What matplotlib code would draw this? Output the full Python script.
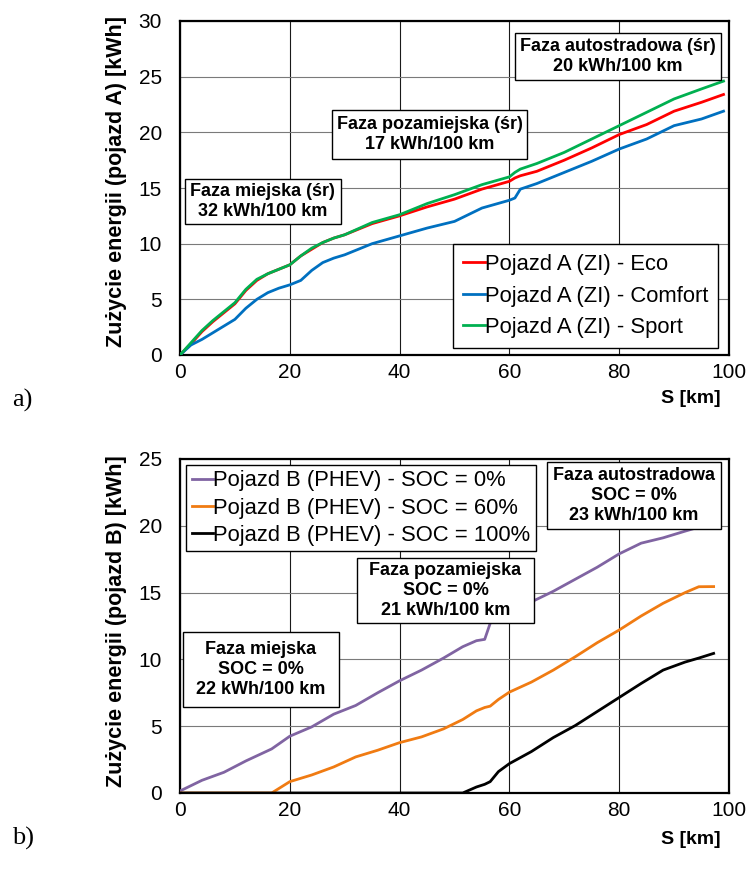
import matplotlib
matplotlib.use("Agg")
import matplotlib.pyplot as plt
from matplotlib.patches import Rectangle

plt.rcParams["font.family"] = ["Liberation Sans", "DejaVu Sans"]

# ---- Pojazd A (ZI): cumulative energy vs distance ----
dist_a = [0, 2, 4, 6, 8, 10, 12, 14, 16, 18, 20, 22, 24, 26, 28, 30, 35, 40,
          45, 50, 55, 60, 61, 62, 65, 70, 75, 80, 85, 90, 95, 99]
energy_eco = [0, 1.0, 2.1, 3.0, 3.8, 4.6, 5.8, 6.7, 7.3, 7.7, 8.1, 8.9, 9.5,
              10.1, 10.5, 10.8, 11.8, 12.5, 13.3, 14.0, 14.9, 15.6, 15.9,
              16.1, 16.5, 17.5, 18.6, 19.8, 20.7, 21.9, 22.7, 23.4]
energy_comfort = [0, 0.9, 1.4, 2.0, 2.6, 3.2, 4.2, 5.0, 5.6, 6.0, 6.3, 6.7,
                  7.6, 8.3, 8.7, 9.0, 10.0, 10.7, 11.4, 12.0, 13.2, 13.9,
                  14.1, 14.9, 15.4, 16.4, 17.4, 18.5, 19.4, 20.6, 21.2, 21.9]
energy_sport = [0, 1.1, 2.2, 3.1, 3.9, 4.7, 5.9, 6.8, 7.3, 7.7, 8.1, 8.9, 9.6,
                10.1, 10.5, 10.8, 11.9, 12.6, 13.6, 14.4, 15.3, 16.0, 16.4,
                16.7, 17.2, 18.2, 19.4, 20.6, 21.8, 23.0, 23.9, 24.6]
labels_a = ["Pojazd A (ZI) - Eco", "Pojazd A (ZI) - Comfort",
            "Pojazd A (ZI) - Sport"]

# ---- Pojazd B (PHEV): cumulative energy vs distance ----
dist_b = [0, 4, 8, 12, 16.7, 20, 24, 28, 32, 36, 40, 44, 48, 51.5, 54, 55.5,
          56.5, 58, 60, 64, 68, 72, 76, 80, 84, 88, 92, 94.5, 97.2]
energy_soc0 = [0.15, 0.95, 1.55, 2.4, 3.3, 4.25, 4.95, 5.9, 6.55, 7.5, 8.4,
               9.2, 10.1, 10.95, 11.4, 11.5, 12.7, 13.3, 13.7, 14.3, 15.1,
               16.0, 16.9, 17.9, 18.7, 19.1, 19.6, 19.9, 20.1]
energy_soc60 = [0, 0, 0, 0, 0, 0.85, 1.35, 1.95, 2.7, 3.2, 3.77, 4.2, 4.8,
                5.5, 6.15, 6.4, 6.5, 7.0, 7.55, 8.3, 9.2, 10.2, 11.25, 12.2,
                13.25, 14.2, 15.0, 15.44, 15.45]
energy_soc100 = [0, 0, 0, 0, 0, 0, 0, 0, 0, 0, 0, 0, 0, 0, 0.45, 0.65, 0.85,
                 1.6, 2.2, 3.1, 4.15, 5.05, 6.1, 7.15, 8.2, 9.2, 9.8, 10.1,
                 10.45]
labels_b = ["Pojazd B (PHEV) - SOC = 0%", "Pojazd B (PHEV) - SOC = 60%",
            "Pojazd B (PHEV) - SOC = 100%"]

# phase annotation texts
notes_a = ["Faza miejska (śr)\n32 kWh/100 km",
           "Faza pozamiejska (śr)\n17 kWh/100 km",
           "Faza autostradowa (śr)\n20 kWh/100 km"]
notes_b = ["Faza miejska\nSOC = 0%\n22 kWh/100 km",
           "Faza pozamiejska\nSOC = 0%\n21 kWh/100 km",
           "Faza autostradowa\nSOC = 0%\n23 kWh/100 km"]

# text-box placement (x0, x1, y0, y1) in data units
boxes_a = [(0.9, 29.3, 11.77, 15.81),
           (27.7, 63.2, 17.61, 22.01),
           (61.0, 98.5, 24.71, 28.93)]
boxes_b = [(0.55, 28.96, 6.44, 12.05),
           (32.24, 64.48, 12.72, 17.59),
           (66.85, 98.54, 19.76, 24.78)]

W, H = 749, 877
fig = plt.figure(figsize=(W / 100, H / 100), dpi=100)


def frame(px_left, px_top, px_right, px_bottom):
    return [px_left / W, 1 - px_bottom / H, (px_right - px_left) / W,
            (px_bottom - px_top) / H]


ax_a = fig.add_axes(frame(180, 21, 729, 355))
ax_b = fig.add_axes(frame(180, 459, 729, 793))

TICK_FS = 15
NOTE_FS = 13
LEG_FS = 15.8


def style_axes(ax, ymax, ylabel, label_y, s_y):
    ax.set_xlim(0, 100)
    ax.set_ylim(0, ymax)
    ax.set_xticks(range(0, 101, 20))
    ax.set_yticks(range(0, ymax + 1, 5))
    ax.tick_params(length=0, labelsize=TICK_FS)
    ax.tick_params(axis="y", pad=13)
    ax.tick_params(axis="x", pad=6)
    ax.xaxis.grid(True, color="#1a1a1a", linewidth=0.8, zorder=0)
    ax.yaxis.grid(True, color="#7a7a7a", linewidth=0.8, zorder=0)
    ax.set_axisbelow(True)
    for sp in ax.spines.values():
        sp.set_linewidth(1.6)
        sp.set_color("black")
    ax.set_ylabel(ylabel, fontsize=15.5, fontweight="bold")
    ax.yaxis.set_label_coords(-0.097, label_y)
    ax.text(0.985, s_y, "S [km]", transform=ax.transAxes, ha="right",
            va="center", fontsize=14, fontweight="bold")


def add_notes(ax, notes, boxes):
    for txt, (x0, x1, y0, y1) in zip(notes, boxes):
        ax.add_patch(Rectangle((x0, y0), x1 - x0, y1 - y0, facecolor="white",
                               edgecolor="black", linewidth=1.0, zorder=5))
        ax.text((x0 + x1) / 2, (y0 + y1) / 2, txt, ha="center", va="center",
                fontsize=NOTE_FS, fontweight="bold", linespacing=1.2,
                zorder=6)


# panel a
style_axes(ax_a, 30, "Zużycie energii (pojazd A) [kWh]", 0.52, -0.13)
ax_a.plot(dist_a, energy_eco, color="#FF0000", lw=2, label=labels_a[0], zorder=3)
ax_a.plot(dist_a, energy_comfort, color="#0070C0", lw=2, label=labels_a[1], zorder=3)
ax_a.plot(dist_a, energy_sport, color="#00B050", lw=2, label=labels_a[2], zorder=3)
add_notes(ax_a, notes_a, boxes_a)
leg = ax_a.legend(loc="lower right", bbox_to_anchor=(0.98, 0.021),
                  borderaxespad=0, fontsize=LEG_FS, handlelength=1.0,
                  handletextpad=0.0, labelspacing=0.48, fancybox=False,
                  edgecolor="black", framealpha=1, borderpad=0.45)
leg.get_frame().set_linewidth(1.0)
leg.set_zorder(7)

# panel b
style_axes(ax_b, 25, "Zużycie energii (pojazd B) [kWh]", 0.515, -0.14)
ax_b.plot(dist_b, energy_soc0, color="#8064A2", lw=2, label=labels_b[0], zorder=3)
ax_b.plot(dist_b, energy_soc60, color="#F07B12", lw=2, label=labels_b[1], zorder=3)
ax_b.plot(dist_b, energy_soc100, color="black", lw=2, label=labels_b[2], zorder=3)
add_notes(ax_b, notes_b, boxes_b)
leg = ax_b.legend(loc="upper left", bbox_to_anchor=(0.011, 0.982),
                  borderaxespad=0, fontsize=LEG_FS, handlelength=1.0,
                  handletextpad=0.0, labelspacing=0.28, fancybox=False,
                  edgecolor="black", framealpha=1, borderpad=0.25)
leg.get_frame().set_linewidth(1.0)
leg.set_zorder(7)

# panel letters
fig.text(12 / W, 1 - 400 / H, "a)", fontsize=19,
         family=["Liberation Serif", "DejaVu Serif"], va="center")
fig.text(12 / W, 1 - 838 / H, "b)", fontsize=19,
         family=["Liberation Serif", "DejaVu Serif"], va="center")

fig.savefig("out.png", dpi=100)
